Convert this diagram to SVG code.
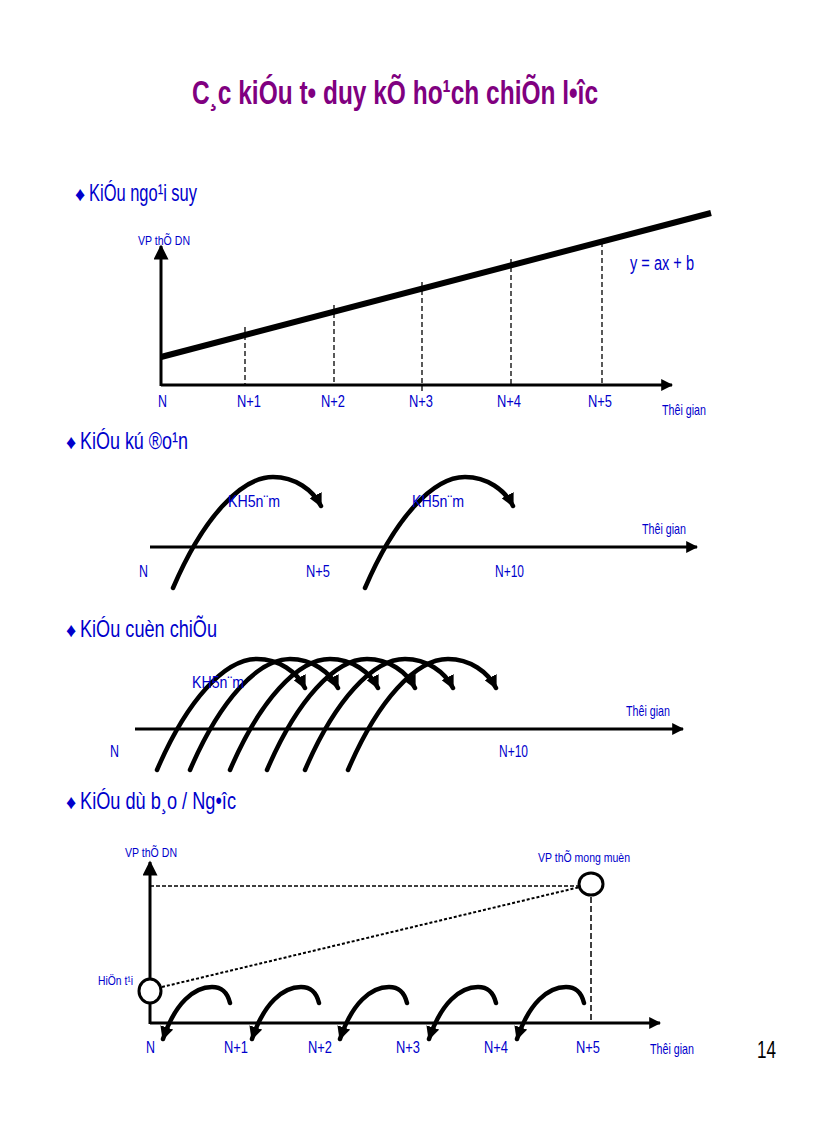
<svg xmlns="http://www.w3.org/2000/svg" width="816" height="1123" viewBox="0 0 816 1123">
<style>
.t{font-family:"Liberation Sans",Arial,sans-serif;fill:#0000cc}
.h{font-size:24px}
.s{font-size:17px}
.xs{font-size:15px}
.ax{stroke:#000;stroke-width:3;fill:none}
.arc{stroke:#000;stroke-width:4.5;fill:none;stroke-linecap:round}
.dash{stroke:#000;stroke-width:1.3;stroke-dasharray:5,3;fill:none}
</style>
<defs>
<marker id="ah" viewBox="0 0 10 10" refX="9" refY="5" markerWidth="4" markerHeight="4" orient="auto" markerUnits="strokeWidth"><path d="M0,0L10,5L0,10z" fill="#000"/></marker>
<marker id="ah2" viewBox="0 0 10 10" refX="9" refY="5" markerWidth="3" markerHeight="3" orient="auto" markerUnits="strokeWidth"><path d="M0,0L10,5L0,10z" fill="#000"/></marker>
<marker id="ahs" viewBox="0 0 10 10" refX="9" refY="5" markerWidth="6" markerHeight="5" orient="auto" markerUnits="strokeWidth"><path d="M0,0L10,5L0,10z" fill="#000"/></marker>
<path id="arcA" d="M0,0 C30,-70 68,-111 100,-111 C122,-111 140,-98 148,-82"/>
<path id="arcB" d="M69,-40 C66,-52 60,-56 51,-56 C33,-56 14,-40 2,-4"/>
</defs>

<g id="title">
<text x="395" y="104" text-anchor="middle" font-family="Liberation Sans, Arial, sans-serif" font-weight="bold" font-size="34" fill="#800080" textLength="406" lengthAdjust="spacingAndGlyphs">C¸c kiÓu t• duy kÕ ho¹ch chiÕn l•îc</text>
</g>

<!-- Section 1 -->
<g id="sec1-heading">
<text class="t" x="75" y="201" font-size="20">♦</text>
<text class="t h" x="89" y="201" textLength="108" lengthAdjust="spacingAndGlyphs">KiÓu ngo¹i suy</text>
</g>
<g id="sec1-connectors">
<line class="ax" x1="161" y1="386" x2="161" y2="246" stroke-width="1.5" marker-end="url(#ahs)"/>
<line class="ax" x1="161" y1="385" x2="672" y2="385" marker-end="url(#ah)"/>
<line x1="161" y1="357" x2="711" y2="213" stroke="#000" stroke-width="6"/>
<line class="dash" x1="245" y1="327" x2="245" y2="385"/>
<line class="dash" x1="334" y1="305" x2="334" y2="385"/>
<line class="dash" x1="422" y1="282" x2="422" y2="392"/>
<line class="dash" x1="511" y1="259" x2="511" y2="385"/>
<line class="dash" x1="602" y1="242" x2="602" y2="385"/>
</g>
<g id="sec1-labels">
<text class="t" x="138" y="245" font-size="13" textLength="52" lengthAdjust="spacingAndGlyphs">VP thÕ DN</text>
<text class="t" x="630" y="270" font-size="20" textLength="64" lengthAdjust="spacingAndGlyphs">y = ax + b</text>
<text class="t s" x="158" y="407" textLength="9" lengthAdjust="spacingAndGlyphs">N</text>
<text class="t s" x="237" y="407" textLength="24" lengthAdjust="spacingAndGlyphs">N+1</text>
<text class="t s" x="321" y="407" textLength="24" lengthAdjust="spacingAndGlyphs">N+2</text>
<text class="t s" x="409" y="407" textLength="24" lengthAdjust="spacingAndGlyphs">N+3</text>
<text class="t s" x="497" y="407" textLength="24" lengthAdjust="spacingAndGlyphs">N+4</text>
<text class="t s" x="588" y="407" textLength="24" lengthAdjust="spacingAndGlyphs">N+5</text>
<text class="t xs" x="662" y="415" textLength="44" lengthAdjust="spacingAndGlyphs">Thêi gian</text>
</g>

<!-- Section 2 -->
<g id="sec2-heading">
<text class="t" x="66" y="449" font-size="20">♦</text>
<text class="t h" x="80" y="449" textLength="108" lengthAdjust="spacingAndGlyphs">KiÓu kú ®o¹n</text>
</g>
<g id="sec2-connectors">
<line class="ax" x1="150" y1="547" x2="697" y2="547" marker-end="url(#ah)"/>
<use href="#arcA" class="arc" transform="translate(173,588)" marker-end="url(#ah2)"/>
<use href="#arcA" class="arc" transform="translate(365,588)" marker-end="url(#ah2)"/>
</g>
<g id="sec2-labels">
<text class="t s" x="228" y="507" font-size="18" textLength="52" lengthAdjust="spacingAndGlyphs">KH5n¨m</text>
<text class="t s" x="412" y="507" font-size="18" textLength="52" lengthAdjust="spacingAndGlyphs">KH5n¨m</text>
<text class="t xs" x="642" y="534" textLength="44" lengthAdjust="spacingAndGlyphs">Thêi gian</text>
<text class="t s" x="139" y="577" textLength="9" lengthAdjust="spacingAndGlyphs">N</text>
<text class="t s" x="306" y="577" textLength="24" lengthAdjust="spacingAndGlyphs">N+5</text>
<text class="t s" x="495" y="577" textLength="29" lengthAdjust="spacingAndGlyphs">N+10</text>
</g>

<!-- Section 3 -->
<g id="sec3-heading">
<text class="t" x="66" y="637" font-size="20">♦</text>
<text class="t h" x="80" y="637" textLength="137" lengthAdjust="spacingAndGlyphs">KiÓu cuèn chiÕu</text>
</g>
<g id="sec3-connectors">
<line class="ax" x1="135" y1="729" x2="683" y2="729" marker-end="url(#ah)"/>
<use href="#arcA" class="arc" transform="translate(157,770)" marker-end="url(#ah2)"/>
<use href="#arcA" class="arc" transform="translate(190,770)" marker-end="url(#ah2)"/>
<use href="#arcA" class="arc" transform="translate(230,770)" marker-end="url(#ah2)"/>
<use href="#arcA" class="arc" transform="translate(267,770)" marker-end="url(#ah2)"/>
<use href="#arcA" class="arc" transform="translate(305,770)" marker-end="url(#ah2)"/>
<use href="#arcA" class="arc" transform="translate(348,770)" marker-end="url(#ah2)"/>
</g>
<g id="sec3-labels">
<text class="t s" x="192" y="688" font-size="18" textLength="52" lengthAdjust="spacingAndGlyphs">KH5n¨m</text>
<text class="t xs" x="626" y="716" textLength="44" lengthAdjust="spacingAndGlyphs">Thêi gian</text>
<text class="t s" x="110" y="757" textLength="9" lengthAdjust="spacingAndGlyphs">N</text>
<text class="t s" x="499" y="757" textLength="29" lengthAdjust="spacingAndGlyphs">N+10</text>
</g>

<!-- Section 4 -->
<g id="sec4-heading">
<text class="t" x="66" y="809" font-size="20">♦</text>
<text class="t h" x="80" y="809" textLength="156" lengthAdjust="spacingAndGlyphs">KiÓu dù b¸o / Ng•îc</text>
</g>
<g id="sec4-connectors">
<line class="ax" x1="150" y1="1024" x2="150" y2="862" stroke-width="1.5" marker-end="url(#ahs)"/>
<line class="ax" x1="150" y1="1023" x2="660" y2="1023" stroke-width="2.5" marker-end="url(#ah)"/>
<line x1="150" y1="886" x2="580" y2="886" stroke="#000" stroke-width="1.5" stroke-dasharray="4,2"/>
<line x1="162" y1="987" x2="580" y2="887" stroke="#000" stroke-width="2" stroke-dasharray="3,2"/>
<line x1="591" y1="897" x2="591" y2="1023" stroke="#000" stroke-width="1.5" stroke-dasharray="6,3"/>
<use href="#arcB" class="arc" transform="translate(161,1043)" marker-end="url(#ah2)"/>
<use href="#arcB" class="arc" transform="translate(250,1043)" marker-end="url(#ah2)"/>
<use href="#arcB" class="arc" transform="translate(338,1043)" marker-end="url(#ah2)"/>
<use href="#arcB" class="arc" transform="translate(427,1043)" marker-end="url(#ah2)"/>
<use href="#arcB" class="arc" transform="translate(515,1043)" marker-end="url(#ah2)"/>
</g>
<g id="node-target">
<ellipse cx="591" cy="884" rx="12" ry="11" fill="#fff" stroke="#000" stroke-width="3"/>
<text class="t" x="538" y="862" font-size="13" textLength="92" lengthAdjust="spacingAndGlyphs">VP thÕ mong muèn</text>
</g>
<g id="node-current">
<ellipse cx="150" cy="991" rx="11" ry="12" fill="#fff" stroke="#000" stroke-width="3"/>
<text class="t" x="98" y="985" font-size="13" textLength="35" lengthAdjust="spacingAndGlyphs">HiÖn t¹i</text>
</g>
<g id="sec4-labels">
<text class="t" x="125" y="857" font-size="13" textLength="52" lengthAdjust="spacingAndGlyphs">VP thÕ DN</text>
<text class="t s" x="146" y="1053" textLength="9" lengthAdjust="spacingAndGlyphs">N</text>
<text class="t s" x="224" y="1053" textLength="24" lengthAdjust="spacingAndGlyphs">N+1</text>
<text class="t s" x="308" y="1053" textLength="24" lengthAdjust="spacingAndGlyphs">N+2</text>
<text class="t s" x="396" y="1053" textLength="24" lengthAdjust="spacingAndGlyphs">N+3</text>
<text class="t s" x="484" y="1053" textLength="24" lengthAdjust="spacingAndGlyphs">N+4</text>
<text class="t s" x="576" y="1053" textLength="24" lengthAdjust="spacingAndGlyphs">N+5</text>
<text class="t xs" x="650" y="1054" textLength="44" lengthAdjust="spacingAndGlyphs">Thêi gian</text>
</g>
<g id="page-number">
<text x="757" y="1058" font-family="Liberation Sans, Arial, sans-serif" font-size="24" fill="#000" textLength="19" lengthAdjust="spacingAndGlyphs">14</text>
</g>
</svg>
